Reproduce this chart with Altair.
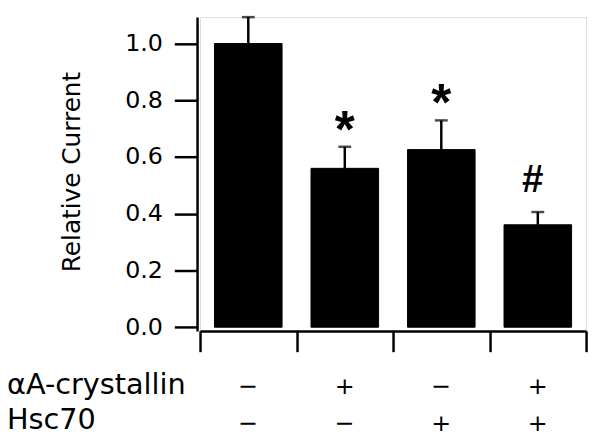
import altair as alt
import pandas as pd

conditions = ["C1", "C2", "C3", "C4"]
values = [1.0, 0.56, 0.626, 0.361]
errors = [0.093, 0.076, 0.103, 0.045]
alphaA = ["−", "+", "−", "+"]
hsc70 = ["−", "−", "+", "+"]
marks = ["", "*", "*", "#"]
row_labels = ["αA-crystallin", "Hsc70"]
y_ticks = [0.0, 0.2, 0.4, 0.6, 0.8, 1.0]

FONT = "DejaVu Sans"
BAR_HALF = 0.35

df = pd.DataFrame({
    "cond": conditions,
    "value": values,
    "err": errors,
    "alphaA": alphaA,
    "hsc70": hsc70,
    "mark": marks,
})
df["pos"] = [i + 0.5 for i in range(len(df))]
df["left"] = df["pos"] - BAR_HALF
df["right"] = df["pos"] + BAR_HALF
df["top"] = df["value"] + df["err"]

xscale = alt.Scale(domain=[0, 4], nice=False, zero=False)
yscale = alt.Scale(domain=[-0.013, 1.093], nice=False, zero=False)

base = alt.Chart(df)

bars = base.mark_bar(color="black", stroke="black", strokeWidth=1).encode(
    x=alt.X("left:Q", scale=xscale, axis=alt.Axis(
        values=[0, 1, 2, 3, 4], labels=False, title=None, tickSize=21,
        tickWidth=2.5, domainWidth=2.5, domainColor="black", tickColor="black",
        grid=False)),
    x2="right:Q",
    y=alt.Y("value:Q", scale=yscale, axis=alt.Axis(
        values=y_ticks, format=".1f", title="Relative Current", offset=3,
        tickSize=23, tickWidth=2.5, domainWidth=2.5, domainColor="black",
        tickColor="black", labelPadding=12, labelFont=FONT, labelFontSize=24,
        labelColor="black", titleFont=FONT, titleFontSize=25,
        titleFontWeight="normal", titleColor="black", titleAngle=-90,
        titleBaseline="alphabetic", titleAlign="center", titleX=-119,
        titleY=156, grid=False)),
    y2=alt.Y2(datum=0),
)

err_rule = base.mark_rule(color="black", strokeWidth=2.5).encode(
    x=alt.X("pos:Q", scale=xscale),
    y=alt.Y("value:Q", scale=yscale),
    y2="top:Q",
)

caps = base.mark_tick(color="black", orient="horizontal", size=13, thickness=2.5).encode(
    x=alt.X("pos:Q", scale=xscale),
    y=alt.Y("top:Q", scale=yscale),
)

stars = base.transform_filter(alt.datum.mark == "*").mark_text(
    font="Liberation Sans", fontSize=52, fontWeight="bold", color="black",
    baseline="alphabetic", dy=0).encode(
    x=alt.X("pos:Q", scale=xscale),
    y=alt.Y("top:Q", scale=yscale),
    text="mark:N",
)

hashes = base.transform_filter(alt.datum.mark == "#").mark_text(
    font="Liberation Sans", fontSize=39, fontWeight="bold", color="black",
    baseline="alphabetic", dy=-20, dx=-5).encode(
    x=alt.X("pos:Q", scale=xscale),
    y=alt.Y("top:Q", scale=yscale),
    text="mark:N",
)

row1 = base.mark_text(font=FONT, fontSize=24, color="black", baseline="middle").encode(
    x=alt.X("pos:Q", scale=xscale),
    y=alt.value(374),
    text="alphaA:N",
)

row2 = base.mark_text(font=FONT, fontSize=24, color="black", baseline="middle").encode(
    x=alt.X("pos:Q", scale=xscale),
    y=alt.value(411),
    text="hsc70:N",
)

lab1 = alt.Chart(pd.DataFrame({"label": [row_labels[0]]})).mark_text(
    font=FONT, fontSize=29, color="black", align="left", baseline="alphabetic"
).encode(x=alt.value(-195), y=alt.value(381), text="label:N")

lab2 = alt.Chart(pd.DataFrame({"label": [row_labels[1]]})).mark_text(
    font=FONT, fontSize=29, color="black", align="left", baseline="alphabetic"
).encode(x=alt.value(-195), y=alt.value(416), text="label:N")

chart = alt.layer(bars, err_rule, caps, stars, hashes, row1, row2, lab1, lab2).properties(
    width=390, height=317,
    autosize=alt.AutoSizeParams(type="none"),
    padding={"left": 194, "top": 7, "right": 6, "bottom": 107},
).configure_view(stroke=None).configure(background="white")

chart.save("out.html", embed_options={"renderer": "svg", "actions": False})
